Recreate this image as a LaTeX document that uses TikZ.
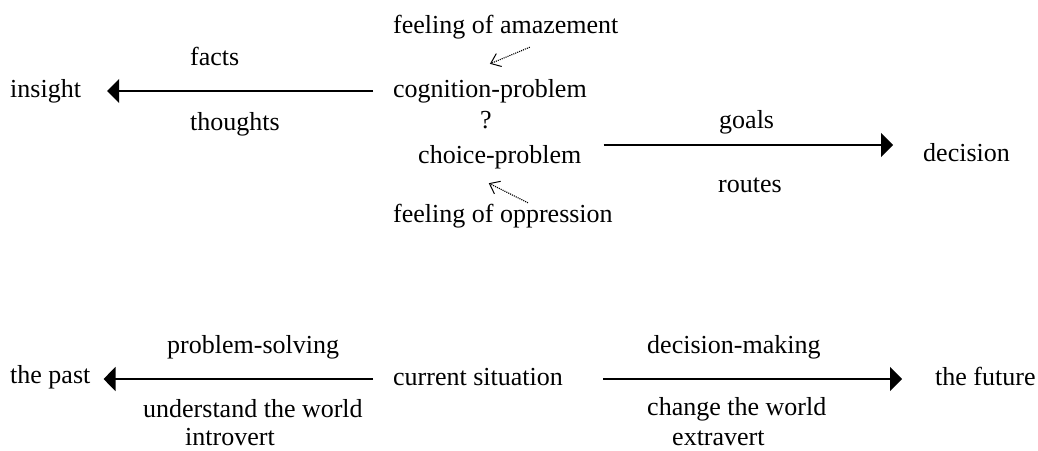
\documentclass[tikz,border=0pt]{standalone}
\usepackage{fontspec}
\setmainfont{Liberation Serif}
\usetikzlibrary{arrows.meta}
\begin{document}
\begin{tikzpicture}[x=1pt,y=-1pt,
  lbl/.style={anchor=base west,inner sep=0pt,text height=18pt,text depth=6pt,font=\fontsize{26}{30}\selectfont},
  mainarrow/.style={-{Triangle[length=12pt,width=24pt]},line width=1.6pt},
  feelarrow/.style={-{Straight Barb[length=9pt,width=14pt,line width=1pt]},densely dotted,line width=1.1pt}]
\useasboundingbox (0,0) rectangle (1038,450);
% upper row: problems
\node[lbl] (amaze) at (393,33) {feeling of amazement};
\node[lbl] (cogn) at (393,97) {cognition-problem};
\node[lbl] (quest) at (480,128) {?};
\node[lbl] (choice) at (418,163) {choice-problem};
\node[lbl] (oppr) at (393,222) {feeling of oppression};
\node[lbl] (insight) at (10,97) {insight};
\node[lbl] (facts) at (190,65) {facts};
\node[lbl] (thoughts) at (190,130) {thoughts};
\node[lbl] (decision) at (923,161) {decision};
\node[lbl] (goals) at (719,128) {goals};
\node[lbl] (routes) at (718,192) {routes};
\draw[mainarrow,shorten <=20pt,shorten >=26pt] (cogn.west) -- (cogn.west -| insight.east);
\draw[mainarrow,shorten <=22pt,shorten >=30pt] ([yshift=12pt]choice.east) -- ([yshift=12pt]choice.east -| decision.west);
\draw[feelarrow] ([xshift=24pt,yshift=-8pt]amaze.south) -- ([yshift=15pt]cogn.north);
\draw[feelarrow] ([xshift=25pt,yshift=1pt]oppr.north) -- ([xshift=-11pt,yshift=-14pt]choice.south);
% lower row: situation
\node[lbl] (past) at (10,383) {the past};
\node[lbl] (probsolv) at (167,353) {problem-solving};
\node[lbl] (underst) at (143,417) {understand the world};
\node[lbl] (introvert) at (185,445) {introvert};
\node[lbl] (current) at (393,385) {current situation};
\node[lbl] (decmak) at (647,353) {decision-making};
\node[lbl] (change) at (647,415) {change the world};
\node[lbl] (extravert) at (672,445) {extravert};
\node[lbl] (future) at (935,385) {the future};
\draw[mainarrow,shorten <=20pt,shorten >=13pt] (current.west) -- (current.west -| past.east);
\draw[mainarrow,shorten <=40pt,shorten >=33pt] (current.east) -- (current.east -| future.west);
\end{tikzpicture}
\end{document}
